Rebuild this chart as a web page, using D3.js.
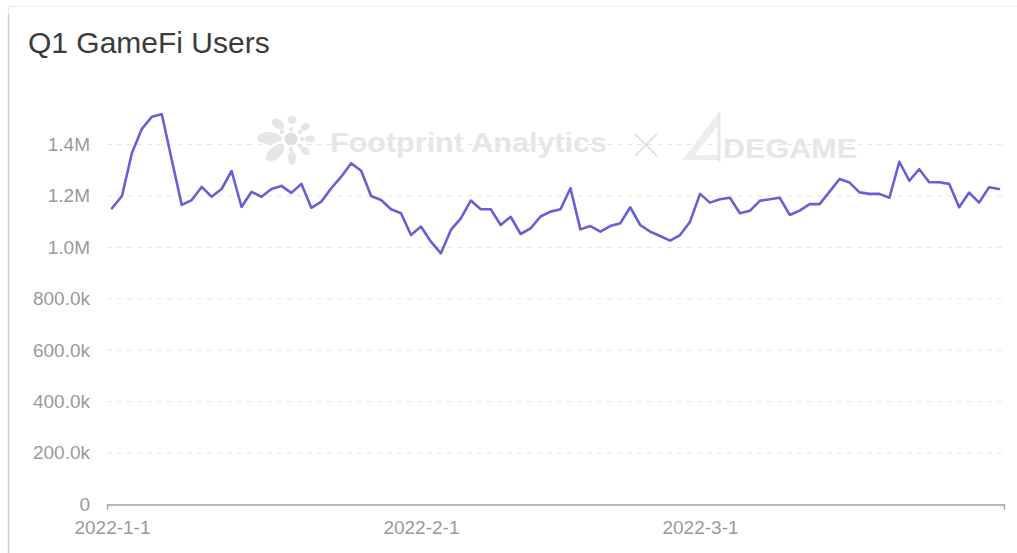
<!DOCTYPE html>
<html><head><meta charset="utf-8">
<script src="https://cdn.jsdelivr.net/npm/d3@7"></script>
<style>
html,body{margin:0;padding:0;background:#fff;}
svg{display:block;font-family:"Liberation Sans",Arial,Helvetica,sans-serif;}
</style></head><body>
<svg id="chart" width="1017" height="553"></svg>
<script>
const chartTitle = "Q1 GameFi Users";
const startDate = "2022-01-01";
// daily users, 2022-01-01 .. 2022-03-31
const users = [
 1150000,1198000,1365000,1459000,1506000,1516000,1338000,1163000,1182000,1233000,
 1195000,1225000,1295000,1155000,1214000,1195000,1225000,1237000,1210000,1245000,
 1152000,1176000,1228000,1273000,1325000,1296000,1198000,1182000,1146000,1131000,
 1046000,1079000,1020000, 975000,1066000,1111000,1180000,1146000,1146000,1085000,
 1117000,1050000,1072000,1118000,1137000,1146000,1228000,1068000,1081000,1059000,
 1081000,1092000,1154000,1085000,1059000,1042000,1024000,1046000,1098000,1206000,
 1172000,1185000,1191000,1131000,1140000,1179000,1185000,1191000,1124000,1141000,
 1166000,1166000,1215000,1264000,1250000,1212000,1206000,1206000,1191000,1331000,
 1257000,1302000,1251000,1251000,1245000,1154000,1211000,1172000,1232000,1225000
];
const yTicks = [0,200000,400000,600000,800000,1000000,1200000,1400000];
const xTickDates = ["2022-01-01","2022-02-01","2022-03-01"];

const svg = d3.select("#chart");
const parse = d3.utcParse("%Y-%m-%d");
const t0 = parse(startDate);
const data = users.map((v,i)=>({date:d3.utcDay.offset(t0,i), v}));

// card
svg.append("rect").attr("x",8.5).attr("y",6.5).attr("width",1030).attr("height",560)
  .attr("fill","#fff").attr("stroke","#ececec");
svg.append("line").attr("x1",8.5).attr("x2",8.5).attr("y1",14).attr("y2",553)
  .attr("stroke","#cfcfcf").attr("stroke-width",1.5);

svg.append("text").attr("x",28).attr("y",53).attr("font-size",30)
  .attr("fill","#3b3b3b").text(chartTitle);

const x = d3.scaleUtc()
  .domain([d3.utcHour.offset(t0,-12), d3.utcHour.offset(data[data.length-1].date,12)])
  .range([107,1004]);
const y = d3.scaleLinear().domain([0,1400000]).range([504,144]);

const fmt = v => v===0 ? "0" : v>=1e6 ? (v/1e6).toFixed(1)+"M" : (v/1e3).toFixed(1)+"k";

// gridlines
svg.append("g").selectAll("line").data(yTicks.filter(d=>d>0)).join("line")
  .attr("x1",107).attr("x2",1004)
  .attr("y1",d=>y(d)+0.5).attr("y2",d=>y(d)+0.5)
  .attr("stroke","#e6e6e6").attr("stroke-dasharray","5,5");

// y labels
svg.append("g").selectAll("text").data(yTicks).join("text")
  .attr("x",90).attr("y",d=>y(d)).attr("dy","0.36em")
  .attr("text-anchor","end").attr("font-size",19).attr("fill","#9a9a9a")
  .text(fmt);

// watermark
const wm = svg.append("g").attr("fill","#e6e6e6");
const fc = [291,139];
const petals = [
 {dx:-22,dy:-1,rx:12,ry:6,a:0},
 {dx:-13,dy:-15,rx:7,ry:4.5,a:40},
 {dx:1,dy:-19,rx:4.5,ry:4,a:0},
 {dx:14,dy:-12,rx:5,ry:3.5,a:-40},
 {dx:19,dy:0,rx:5,ry:3.5,a:0},
 {dx:14,dy:12,rx:5,ry:3.5,a:40},
 {dx:1,dy:19,rx:4,ry:7,a:0},
 {dx:-16,dy:14,rx:11,ry:6,a:-40}
];
wm.selectAll("ellipse").data(petals).join("ellipse")
  .attr("cx",d=>fc[0]+d.dx).attr("cy",d=>fc[1]+d.dy)
  .attr("rx",d=>d.rx).attr("ry",d=>d.ry)
  .attr("transform",d=>`rotate(${d.a},${fc[0]+d.dx},${fc[1]+d.dy})`);
wm.append("circle").attr("cx",fc[0]).attr("cy",fc[1]).attr("r",6.5).attr("fill","#dedede");
[[-9,-7],[9,-7],[-9,7],[9,7],[0,-10],[0,10],[-11,0],[11,0]].forEach(p=>{
  wm.append("circle").attr("cx",fc[0]+p[0]).attr("cy",fc[1]+p[1]).attr("r",2.2);
});
wm.append("text").attr("x",330).attr("y",152).attr("font-size",27).attr("font-weight","bold")
  .attr("textLength",277).attr("lengthAdjust","spacingAndGlyphs").text("Footprint Analytics");
wm.append("path").attr("d","M635,134L657,156M657,134L635,156")
  .attr("stroke","#dcdcdc").attr("stroke-width",1.6).attr("fill","none");
wm.append("path").attr("d","M719,112L682,160L719,160Z M719,124L695,155L719,155Z")
  .attr("fill","#eeeeee").attr("fill-rule","evenodd");
wm.append("path").attr("d","M719,112L719,162")
  .attr("stroke","#e8e8e8").attr("stroke-width",3);
wm.append("text").attr("x",723).attr("y",158).attr("font-size",28).attr("font-weight","bold")
  .attr("textLength",134).attr("lengthAdjust","spacingAndGlyphs").text("DEGAME");

// x axis
const xAxis = d3.axisBottom(x)
  .tickValues(xTickDates.map(parse))
  .tickFormat(d3.utcFormat("%Y-%-m-%-d"))
  .tickSizeInner(0).tickSizeOuter(5).tickPadding(16);
const gx = svg.append("g").attr("transform","translate(0,504.5)").call(xAxis);
gx.select(".domain").attr("stroke","#a3a3a3").attr("stroke-width",1.5);
gx.selectAll("text").attr("font-size",19).attr("fill","#9a9a9a")
  .attr("font-family","'Liberation Sans',Arial,sans-serif");

// line
svg.append("path").datum(data)
  .attr("fill","none").attr("stroke","#6760d6").attr("stroke-width",2.6)
  .attr("stroke-linejoin","round").attr("stroke-linecap","round")
  .attr("d",d3.line().x(d=>x(d.date)).y(d=>y(d.v)));
</script>
</body></html>
